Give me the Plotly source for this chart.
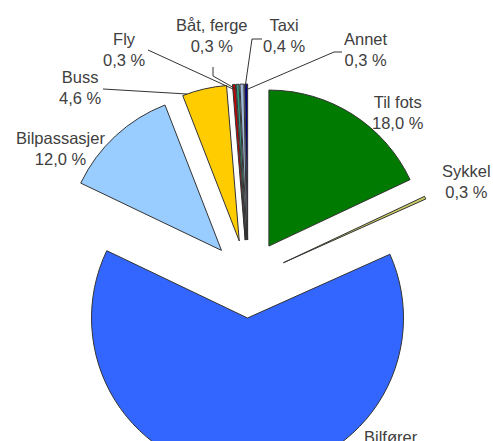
import plotly.graph_objects as go

# ---- data ----
labels = ["Til fots", "Sykkel", "Bilfører", "Bilpassasjer", "Buss", "Fly", "Båt, ferge", "Taxi", "Annet"]
values = [18.0, 0.3, 63.8, 12.0, 4.6, 0.3, 0.3, 0.4, 0.3]

# ---- styles / layout ----
colors = ["#007A00", "#CCCC66", "#3366FF", "#99CCFF", "#FFCC00",
          "#CC0000", "#339980", "#A0B8D8", "#000080"]
W, H = 493, 558

def px(x):
    return x / W

def py(y):
    return 1 - y / H

# label centres (pixels)
label_pos = {
    "Til fots": (398, 112),
    "Sykkel": (466, 181),
    "Bilfører": (391, 447),
    "Bilpassasjer": (60, 148),
    "Buss": (80, 88),
    "Fly": (124, 50),
    "Båt, ferge": (212, 36),
    "Taxi": (284, 36),
    "Annet": (366, 50),
}
# leader lines (pixels)
leaders = [
    [(103, 89), (187, 94)],
    [(148, 50), (233, 89)],
    [(213, 67), (213, 76), (236, 89)],
    [(262, 39), (252, 39), (245, 88)],
    [(342, 52), (334, 52), (248, 89)],
]

fig = go.Figure(go.Pie(
    labels=labels,
    values=values,
    sort=False,
    direction="clockwise",
    rotation=0,
    pull=[0.25] * len(values),
    marker=dict(colors=colors, line=dict(color="#333333", width=1)),
    textinfo="none",
    hoverinfo="label+percent",
    domain=dict(x=[px(53), px(443)], y=[0, 1]),
))

font = dict(family="Liberation Sans, Arial, sans-serif", size=16.5, color="#404040")
annotations = []
for lab, val in zip(labels, values):
    x, y = label_pos[lab]
    txt = f"{lab}<br>{val:.1f} %".replace(".", ",")
    annotations.append(dict(x=px(x), y=py(y), xref="paper", yref="paper",
                            text=txt, showarrow=False, font=font,
                            xanchor="center", yanchor="middle", align="center"))

shapes = []
for pts in leaders:
    path = "M " + " L ".join(f"{px(x)},{py(y)}" for x, y in pts)
    shapes.append(dict(type="path", path=path, xref="paper", yref="paper",
                       line=dict(color="#333333", width=1)))

fig.update_layout(
    width=W, height=H,
    margin=dict(l=0, r=0, t=0, b=0),
    paper_bgcolor="white",
    plot_bgcolor="white",
    showlegend=False,
    annotations=annotations,
    shapes=shapes,
)

fig.write_html("out.html",
               config={"displayModeBar": False},
               post_script=("document.documentElement.style.overflow='hidden';"
                            "document.body.style.overflow='hidden';"
                            "document.body.style.margin='0';"))
